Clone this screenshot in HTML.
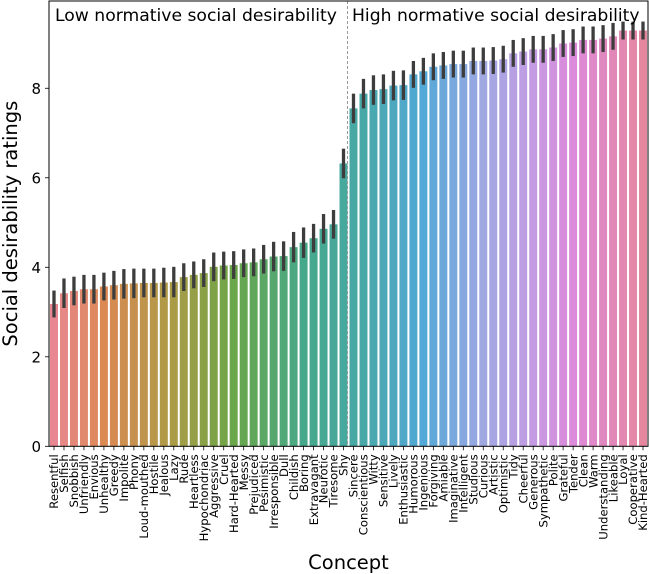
<!DOCTYPE html>
<html><head><meta charset="utf-8"><style>
body{margin:0;background:#fff;}
svg{display:block;font-family:"DejaVu Sans","Liberation Sans",sans-serif;}
</style></head><body>
<svg id="chart" width="649" height="574" viewBox="0 0 649 574" xmlns="http://www.w3.org/2000/svg"></svg>
<script>
const categories=["Resentful","Selfish","Snobbish","Unfriendly","Envious","Unhealthy","Greedy","Impolite","Phony","Loud-mouthed","Hostile","Jealous","Lazy","Rude","Heartless","Hypochondriac","Aggressive","Cruel","Hard-Hearted","Messy","Prejudiced","Pesimistic","Irresponsible","Dull","Childish","Boring","Extravagant","Neurotic","Tiresome","Shy","Sincere","Conscientious","Witty","Sensitive","Lively","Enthusiastic","Humorous","Ingenious","Forgiving","Amiable","Imaginative","Intelligent","Studious","Curious","Artistic","Optimistic","Tidy","Cheerful","Generous","Sympathetic","Polite","Grateful","Tender","Clean","Warm","Understanding","Likeable","Loyal","Cooperative","Kind-Hearted"];
const values=[3.18,3.42,3.47,3.51,3.51,3.57,3.60,3.63,3.64,3.65,3.65,3.66,3.67,3.78,3.83,3.87,4.01,4.04,4.05,4.09,4.11,4.18,4.24,4.25,4.45,4.55,4.65,4.86,4.96,6.32,7.55,7.88,7.96,7.98,8.06,8.07,8.31,8.38,8.48,8.51,8.54,8.54,8.61,8.61,8.62,8.65,8.78,8.82,8.87,8.87,8.91,9.00,9.02,9.08,9.08,9.11,9.16,9.29,9.29,9.29];
const ciHalf=[0.30,0.33,0.32,0.32,0.32,0.31,0.32,0.33,0.33,0.32,0.32,0.33,0.34,0.31,0.30,0.31,0.32,0.31,0.31,0.31,0.31,0.32,0.33,0.33,0.34,0.34,0.32,0.33,0.32,0.33,0.33,0.33,0.33,0.33,0.33,0.33,0.3,0.3,0.3,0.3,0.3,0.3,0.3,0.3,0.3,0.3,0.3,0.3,0.3,0.3,0.3,0.3,0.3,0.3,0.3,0.3,0.3,0.2,0.2,0.2];
const yTicks=[0,2,4,6,8];
const dividerPos=29.9;

const L=49,R=648,T=1,B=446.3,YMAX=9.95;
const n=categories.length;
const bw=(R-L)/n;
const x=i=>L+(i+0.5)*bw;
const y=v=>B-(v/YMAX)*(B-T);
const svg=document.getElementById('chart');
const NS="http://www.w3.org/2000/svg";
function mk(tag,attrs){const e=document.createElementNS(NS,tag);for(const k in attrs)e.setAttribute(k,attrs[k]);svg.appendChild(e);return e;}
const keys=[[0,[232,135,146]],[5,[219,138,84]],[12,[170,155,70]],[18,[106,166,74]],[25,[70,168,138]],[31,[72,168,168]],[37,[82,168,214]],[43,[160,168,226]],[48,[196,155,226]],[52,[220,138,218]],[59,[230,135,160]]];
function col(i){for(let k=0;k<keys.length-1;k++){const [a,ca]=keys[k],[b,cb]=keys[k+1];if(i>=a&&i<=b){const t=(i-a)/(b-a);return `rgb(${ca.map((c,j)=>Math.round(c+(cb[j]-c)*t)).join(',')})`;}}return 'gray';}
categories.forEach((c,i)=>{
  const r=mk('rect',{x:x(i)-bw*0.4,y:y(values[i]),width:bw*0.8,height:B-y(values[i]),fill:col(i)});
  
  
  const e=mk('line',{x1:x(i),x2:x(i),y1:y(values[i]+ciHalf[i]),y2:y(values[i]-ciHalf[i]),stroke:'#3d3d3d','stroke-width':3.3});
  
  
  const tk=mk('line',{x1:x(i),x2:x(i),y1:B,y2:B+4,stroke:'#000','stroke-width':0.8});
  
  
  const t=mk('text',{x:0,y:0,'font-size':11.6,'text-anchor':'end',transform:`translate(${x(i)+4.2},${B+8}) rotate(-90)`});
  t.textContent=c;
  
  
});
yTicks.forEach(v=>{
  const tk=mk('line',{x1:L-4,x2:L,y1:y(v),y2:y(v),stroke:'#000','stroke-width':0.8});
  
  
  const t=mk('text',{x:L-8,y:y(v)+5.5,'font-size':15,'text-anchor':'end'});
  t.textContent=v;
  
  
});
const dv=mk('line',{x1:L+dividerPos*bw,x2:L+dividerPos*bw,y1:T,y2:B,stroke:'#999','stroke-width':1,'stroke-dasharray':'3,2'});


const fr=mk('rect',{x:L,y:T,width:R-L,height:B-T,fill:'none',stroke:'#000','stroke-width':1});


const t1=mk('text',{x:55,y:21,'font-size':17.2});
t1.textContent='Low normative social desirability';


const t2=mk('text',{x:352,y:21,'font-size':17.2});
t2.textContent='High normative social desirability';


const yt=mk('text',{x:0,y:0,'font-size':19.5,'text-anchor':'middle',transform:`translate(17,${(T+B)/2}) rotate(-90)`});
yt.textContent='Social desirability ratings';


const xt=mk('text',{x:(L+R)/2,y:569,'font-size':19.5,'text-anchor':'middle'});
xt.textContent='Concept';


</script>
</body></html>
